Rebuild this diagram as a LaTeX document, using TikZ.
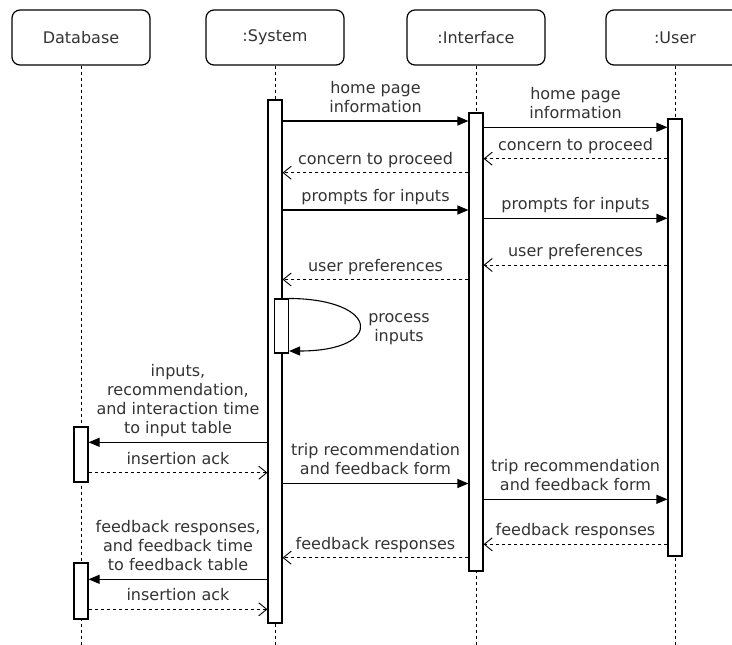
\documentclass[tikz,border=0pt]{standalone}
\usepackage{fontspec}
\setmainfont{DejaVu Sans}
\usepackage{tikz}
\usetikzlibrary{arrows.meta,positioning,calc}

\begin{document}
\begin{tikzpicture}[x=1pt,y=-1pt,font=\fontsize{16}{19}\selectfont,
	head/.style={draw,rounded corners=8pt,minimum width=138pt,minimum height=55pt,line width=1.2pt,text=black!80},
	act/.style={draw,fill=white,minimum width=14pt,inner sep=0pt,line width=1.1pt},
	life/.style={dash pattern=on 3pt off 3pt,line width=0.9pt},
	call/.style={line width=1.1pt,-{Triangle[length=11pt,width=9pt]}},
	reply/.style={line width=0.9pt,dash pattern=on 3pt off 3pt,-{Straight Barb[length=8pt,width=13pt]}},
	lbl/.style={align=center,inner sep=0pt,text=black!80,execute at begin node=\strut,execute at end node=\strut}]
		\useasboundingbox (0,0) rectangle (732,645);
		\node[head] (db) at (81,37.5) {Database};
		\node[head] (sys) at (275,37.5) {:System};
		\node[head] (ifc) at (476,37.5) {:Interface};
		\node[head] (usr) at (675,37.5) {:User};
		\draw[life] (db.south) -- (db.south |- 0,645);
		\draw[life] (sys.south) -- (sys.south |- 0,645);
		\draw[life] (ifc.south) -- (ifc.south |- 0,645);
		\draw[life] (usr.south) -- (usr.south |- 0,645);
		\node[act,minimum height=523pt] (sA) at (275,361.5) {};
		\node[act,minimum height=458pt] (iA) at (476,342) {};
		\node[act,minimum height=437pt] (uA) at (675,337.5) {};
		\node[act,minimum height=54pt] (pA) at (281.5,326) {};
		\node[act,minimum height=55pt] (dA1) at (81,454.5) {};
		\node[act,minimum height=56pt] (dA2) at (81,591) {};
		\draw[call] (sA.east |- 0,121) -- node[lbl,above=2.3pt] {home page\\information} (iA.west |- 0,121);
		\draw[call] (iA.east |- 0,127.3) -- node[lbl,above=2.3pt] {home page\\information} (uA.west |- 0,127.3);
		\draw[reply] (uA.west |- 0,158.7) -- node[lbl,above=2.3pt] {concern to proceed} (iA.east |- 0,158.7);
		\draw[reply] (iA.west |- 0,172.7) -- node[lbl,above=2.3pt] {concern to proceed} (sA.east |- 0,172.7);
		\draw[call] (sA.east |- 0,210) -- node[lbl,above=2.3pt] {prompts for inputs} (iA.west |- 0,210);
		\draw[call] (iA.east |- 0,218.3) -- node[lbl,above=2.3pt] {prompts for inputs} (uA.west |- 0,218.3);
		\draw[reply] (uA.west |- 0,265) -- node[lbl,above=2.3pt] {user preferences} (iA.east |- 0,265);
		\draw[reply] (iA.west |- 0,279.5) -- node[lbl,above=2.3pt] {user preferences} (sA.east |- 0,279.5);
		\draw[call] (pA.north east) .. controls (380,299) and (385,351) .. (pA.east |- 0,351);
		\node[lbl] (plbl) at (399,330.7) {process\\inputs};
		\draw[call] (sA.west |- 0,442.3) -- node[lbl,above=2.3pt] {inputs,\\recommendation,\\and interaction time\\to input table} (dA1.east |- 0,442.3);
		\draw[reply] (dA1.east |- 0,472.7) -- node[lbl,above=2.3pt] {insertion ack} (sA.west |- 0,472.7);
		\draw[call] (sA.east |- 0,483.5) -- node[lbl,above=2.3pt] {trip recommendation\\and feedback form} (iA.west |- 0,483.5);
		\draw[call] (iA.east |- 0,499.3) -- node[lbl,above=2.3pt] {trip recommendation\\and feedback form} (uA.west |- 0,499.3);
		\draw[reply] (uA.west |- 0,544.3) -- node[lbl,above=2.3pt] {feedback responses} (iA.east |- 0,544.3);
		\draw[reply] (iA.west |- 0,557.7) -- node[lbl,above=2.3pt] {feedback responses} (sA.east |- 0,557.7);
		\draw[call] (sA.west |- 0,579.3) -- node[lbl,above=2.3pt] {feedback responses,\\and feedback time\\to feedback table} (dA2.east |- 0,579.3);
		\draw[reply] (dA2.east |- 0,609.3) -- node[lbl,above=2.3pt] {insertion ack} (sA.west |- 0,609.3);
	\end{tikzpicture}
\end{document}
